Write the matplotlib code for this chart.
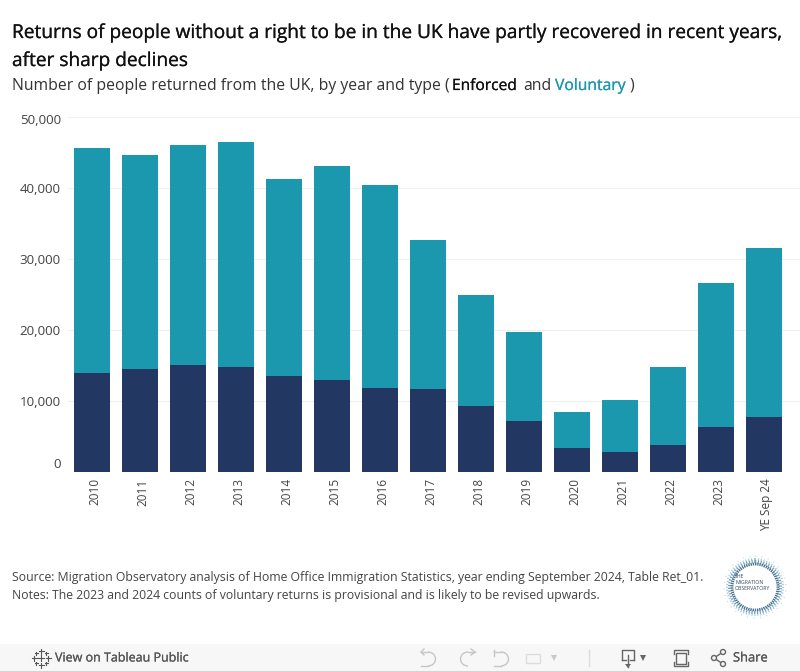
import matplotlib
matplotlib.use("Agg")
import matplotlib.pyplot as plt
import matplotlib.patheffects as pe
from matplotlib.patches import Arc, Circle, Rectangle
from matplotlib.transforms import ScaledTranslation

years = ["2010", "2011", "2012", "2013", "2014", "2015", "2016", "2017",
         "2018", "2019", "2020", "2021", "2022", "2023", "YE Sep 24"]
enforced = [13900, 14500, 15050, 14800, 13500, 12950, 11800, 11650,
            9300, 7150, 3400, 2800, 3800, 6350, 7750]
voluntary = [31750, 30150, 31000, 31700, 27750, 30150, 28600, 21050,
             15650, 12550, 5050, 7350, 10950, 20250, 23800]
y_ticks = [0, 10000, 20000, 30000, 40000, 50000]

plt.rcParams['font.family'] = ['Open Sans', 'DejaVu Sans']

W, H = 800, 671
fig = plt.figure(figsize=(W / 100, H / 100), dpi=100)

# Overlay in pixel coordinates for the text and toolbar
bg = fig.add_axes([0, 0, 1, 1])
bg.set_xlim(0, W)
bg.set_ylim(H, 0)
bg.axis("off")

# Main chart
ax = fig.add_axes([68 / W, 1 - 472 / H, (W - 68) / W, 355 / H])
x = list(range(len(years)))
ax.bar(x, enforced, width=0.75, color="#233763")
ax.bar(x, voluntary, width=0.75, bottom=enforced, color="#1c98ae")
ax.set_xlim(-0.5, 14.75)
ax.set_ylim(0, 50000)
ax.set_yticks(y_ticks)
ax.set_yticklabels([])
ax.set_xticks(x)
ax.set_xticklabels(years, rotation=90, fontsize=8.5, color="#444444")
ax.tick_params(length=0)
ax.tick_params(axis="x", pad=4.5)
ax.grid(axis="y", color="#efefef", lw=0.8)
ax.set_axisbelow(True)
for s in ax.spines.values():
    s.set_visible(False)

# Labels sit a little right of the bar centres in the original
shift = ScaledTranslation(2.5 / 100, 0, fig.dpi_scale_trans)
for lab in ax.get_xticklabels():
    lab.set_transform(lab.get_transform() + shift)

# y labels are nudged off the gridlines at the ends of the axis
for v in y_ticks:
    ypix = 472 - v * 355 / 50000
    nudge = {0: -8, 50000: 4}.get(v, 1.5)
    bg.text(61, ypix + nudge, f"{v:,}", ha="right", va="center",
            fontsize=9.6, color="#444444")

# Titles, with a thin stroke to get a medium weight
medium = [pe.withStroke(linewidth=0.15, foreground="#111111")]
bg.text(12, 33, "Returns of people without a right to be in the UK have partly recovered in recent years,",
        fontsize=13.75, color="#111111", va="center", path_effects=medium)
bg.text(12, 61, "after sharp declines", fontsize=13.75, color="#111111", va="center", path_effects=medium)
bg.text(12, 86, "Number of people returned from the UK, by year and type (", fontsize=11.3,
        color="#333333", va="center")
bg.text(452, 86, "Enforced", fontsize=11.2, color="#111111", va="center", path_effects=medium)
bg.text(523, 86, "and", fontsize=11.3, color="#333333", va="center")
bg.text(555, 86, "Voluntary", fontsize=11.3, color="#1c98ae", va="center",
        path_effects=[pe.withStroke(linewidth=0.15, foreground="#1c98ae")])
bg.text(629, 86, ")", fontsize=11.3, color="#333333", va="center")

# Footer
bg.text(12, 577, "Source: Migration Observatory analysis of Home Office Immigration Statistics, year ending September 2024, Table Ret_01.",
        fontsize=8.85, color="#444444", va="center")
bg.text(12, 595, "Notes: The 2023 and 2024 counts of voluntary returns is provisional and is likely to be revised upwards.",
        fontsize=8.85, color="#444444", va="center")

# Logo
cx, cy = 755, 587
bg.add_patch(Circle((cx, cy), 23, fc="none", ec="#1f4f73", lw=2, alpha=0.8, ls=(0, (0.5, 0.3))))
bg.add_patch(Circle((cx, cy), 25.5, fc="none", ec="#33799c", lw=2.2, alpha=0.7, ls=(0, (0.4, 0.5))))
bg.add_patch(Circle((cx, cy), 28, fc="none", ec="#5f9fbb", lw=1.5, alpha=0.6, ls=(0, (0.5, 0.9))))
bg.add_patch(Circle((cx, cy), 31, fc="none", ec="#8db9cc", lw=1, alpha=0.5, ls=(0, (0.7, 4))))
for i, word in enumerate(["THE", "MIGRATION", "OBSERVATORY"]):
    bg.text(735, 577 + i * 6, word, fontsize=3.7, color="#33475f", va="center")

# Toolbar
bg.add_patch(Rectangle((0, 644), W, H - 644, fc="#f7f7f7", ec="none"))
bg.text(55, 658, "View on Tableau Public", fontsize=9, color="#555555", va="center",
        path_effects=[pe.withStroke(linewidth=0.15, foreground="#555555")])
bg.text(733, 658, "Share", fontsize=9.3, color="#555555", va="center",
        path_effects=[pe.withStroke(linewidth=0.15, foreground="#555555")])

# Tableau mark
for px, py, r in [(41, 651, 2.5), (41, 665, 2.5), (34, 658, 2.5), (48, 658, 2.5), (41, 658, 3),
                  (36, 653, 1.5), (46, 653, 1.5), (36, 663, 1.5), (46, 663, 1.5)]:
    bg.plot([px - r, px + r], [py, py], color="#555555", lw=0.8)
    bg.plot([px, px], [py - r, py + r], color="#555555", lw=0.8)

# Undo, redo, revert, refresh
grey = "#c6c6c6"
bg.add_patch(Arc((428, 659), 15, 14, theta1=-90, theta2=90, ec=grey, lw=1))
bg.plot([421, 428], [652, 652], color=grey, lw=1)
bg.plot([424, 421, 424], [649, 652, 655], color=grey, lw=1)
bg.plot([421, 428], [666, 666], color=grey, lw=1)
bg.add_patch(Arc((468, 659), 15, 14, theta1=90, theta2=270, ec=grey, lw=1))
bg.plot([468, 475], [652, 652], color=grey, lw=1)
bg.plot([471, 475, 471], [649, 652, 655], color=grey, lw=1)
bg.add_patch(Arc((501, 659), 15, 14, theta1=-90, theta2=90, ec=grey, lw=1))
bg.plot([494, 494], [650, 656], color=grey, lw=1)
bg.plot([494, 501], [652, 652], color=grey, lw=1)
bg.plot([494, 501], [666, 666], color=grey, lw=1)
bg.add_patch(Rectangle((526, 654), 14, 9, fc="none", ec="#dcdcdc", lw=1))
bg.fill([551, 557, 554], [655, 655, 661], color="#c8c8c8", lw=0)
bg.plot([589, 589], [650, 666], color="#dddddd", lw=1)

# Download, fullscreen, share
dark = "#666666"
bg.plot([622, 622, 634, 634], [660, 650, 650, 660], color=dark, lw=1)
bg.plot([622, 626], [660, 660], color=dark, lw=1)
bg.plot([630, 634], [660, 660], color=dark, lw=1)
bg.plot([628, 628], [655, 667], color=dark, lw=1)
bg.fill([625, 631, 628], [664, 664, 668], color=dark, lw=0)
bg.fill([640, 646, 643], [655, 655, 661], color=dark, lw=0)
bg.add_patch(Rectangle((676, 653), 10, 11, fc="none", ec=dark, lw=1))
bg.plot([674, 674, 688, 688], [654, 650, 650, 654], color=dark, lw=1)
bg.plot([674, 674, 688, 688], [662, 666, 666, 662], color=dark, lw=1)
bg.plot([723, 714, 723], [652, 658, 664], color=dark, lw=1)
for px, py in [(714, 658), (723, 652), (723, 664)]:
    bg.add_patch(Circle((px, py), 2.5, fc="#f7f7f7", ec=dark, lw=1, zorder=3))

fig.savefig("out.png", dpi=100)
